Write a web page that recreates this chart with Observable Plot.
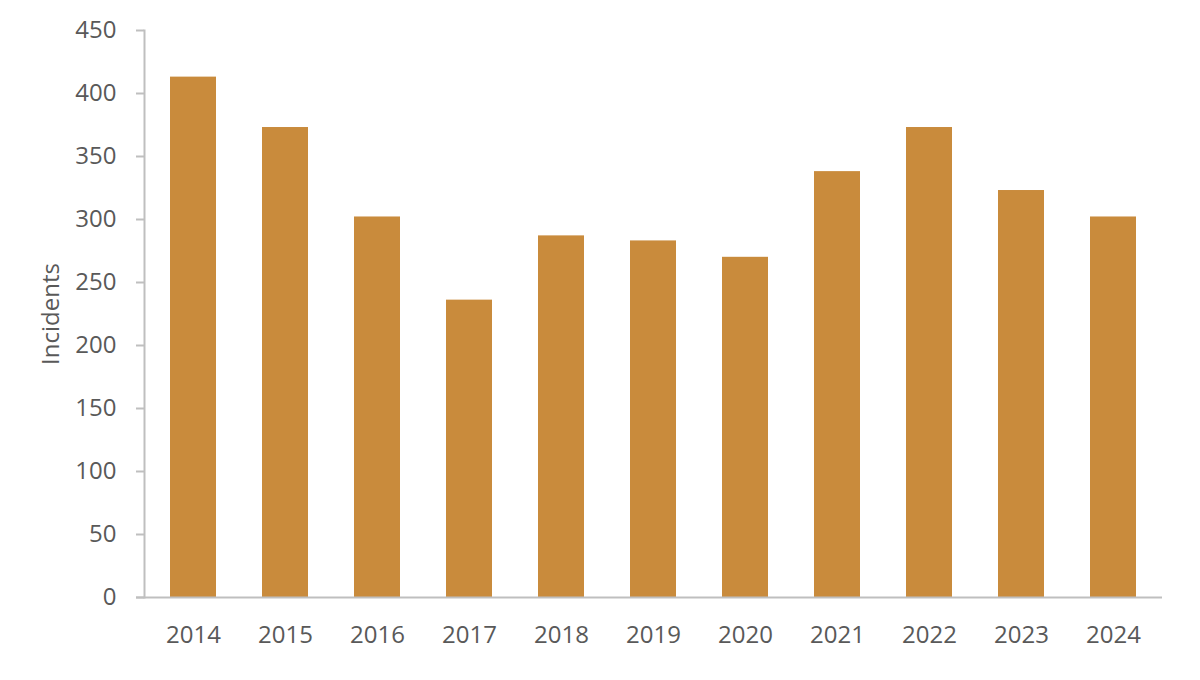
<!DOCTYPE html>
<html>
<head>
<meta charset="utf-8">
<script src="https://cdn.jsdelivr.net/npm/d3@7"></script>
<script src="https://cdn.jsdelivr.net/npm/@observablehq/plot@0.6"></script>
<style>
  html, body { margin: 0; padding: 0; background: #fff; }
  #chart svg { display: block; }
</style>
</head>
<body>
<div id="chart"></div>
<script>
const years = ["2014","2015","2016","2017","2018","2019","2020","2021","2022","2023","2024"];
const incidents = [413, 373, 302, 236, 287, 283, 270, 338, 373, 323, 302];
const yTicks = [0, 50, 100, 150, 200, 250, 300, 350, 400, 450];

const data = years.map((y, i) => ({year: y, value: incidents[i]}));

const axisColor = "#BFBFBF";
const textColor = "#595959";

const chart = Plot.plot({
  width: 1200,
  height: 680,
  marginLeft: 144,
  marginRight: 38,
  marginTop: 30,
  marginBottom: 83,
  style: {fontFamily: "'Open Sans', sans-serif", fontSize: "24px", color: textColor, background: "#fff"},
  x: {domain: years, paddingInner: 0.5, paddingOuter: 0.25, label: null},
  y: {domain: [0, 450], label: null},
  marks: [
    Plot.barY(data, {x: "year", y: "value", fill: "#C98B3C"}),
    Plot.frame({anchor: "left", stroke: axisColor, strokeWidth: 2}),
    Plot.ruleY([0], {stroke: axisColor, strokeWidth: 2, insetLeft: -8}),
    Plot.axisY({ticks: yTicks, tickSize: 8, tickPadding: 20, stroke: axisColor, strokeWidth: 2, strokeOpacity: 1, fill: textColor,
      label: "Incidents", labelAnchor: "center", labelOffset: 103, labelArrow: "none", fontSize: 24}),
    Plot.axisX({tickSize: 0, tickPadding: 28, fill: textColor, label: null, fontSize: 24})
  ]
});
document.getElementById("chart").appendChild(chart);
</script>
</body>
</html>
